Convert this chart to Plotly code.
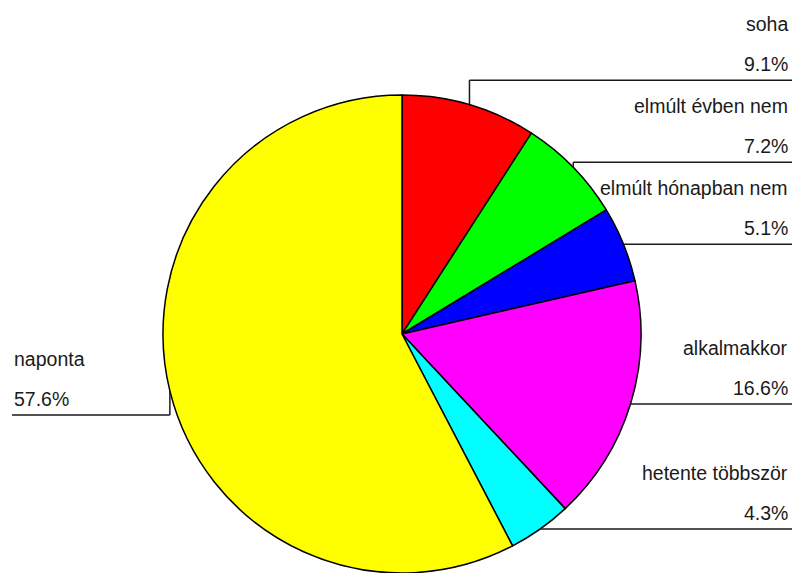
import math
import plotly.graph_objects as go

labels = ["soha", "elmúlt évben nem", "elmúlt hónapban nem", "alkalmakkor", "hetente többször", "naponta"]
values = [9.1, 7.2, 5.1, 16.6, 4.3, 57.6]
colors = ["#ff0000", "#00ff00", "#0000ff", "#ff00ff", "#00ffff", "#ffff00"]

W, H = 802, 573
dom_x = [162 / W, 642 / W]
dom_y = [0.0, 0.8342]

fig = go.Figure(go.Pie(
    labels=labels, values=values, sort=False, direction="clockwise", rotation=0,
    textinfo="none", hoverinfo="label+percent",
    marker=dict(colors=colors, line=dict(color="#000000", width=1.5)),
    domain=dict(x=dom_x, y=dom_y), showlegend=False,
))

# pie geometry in pixels (derived from the domain)
cx = (dom_x[0] + dom_x[1]) / 2 * W
cy = H * (1 - (dom_y[0] + dom_y[1]) / 2)
r = min((dom_x[1] - dom_x[0]) * W, (dom_y[1] - dom_y[0]) * H) / 2

total = sum(values)
cum = 0.0
anchors = []
for lab, v in zip(labels, values):
    theta = 2 * math.pi * (cum + v / 2) / total
    cum += v
    ax = cx + r * math.sin(theta)
    ay = cy - r * math.cos(theta)
    anchors.append(dict(label=lab, value=v, ax=ax, ay=ay, right=math.sin(theta) >= 0))

GAP = 82
right = sorted([a for a in anchors if a["right"]], key=lambda a: a["ay"])
for a in right:
    a["ly"] = a["ay"]
for i in range(len(right) - 2, -1, -1):
    if right[i]["ly"] > right[i + 1]["ly"] - GAP:
        right[i]["ly"] = right[i + 1]["ly"] - GAP
left = [a for a in anchors if not a["right"]]
for a in left:
    a["ly"] = a["ay"] + 24

def px(x):
    return x / W

def py(y):
    return 1 - y / H

line_style = dict(color="#1a1a1a", width=1.5)
font = dict(family="Liberation Sans, Arial, sans-serif", size=19.5, color="#1a1a1a")
annotations = []
shapes = []
for a in anchors:
    end_x = 792 if a["right"] else 12
    text_x = 790 if a["right"] else 12
    anchor = "right" if a["right"] else "left"
    shapes.append(dict(type="line", xref="paper", yref="paper",
                       x0=px(a["ax"]), y0=py(a["ay"]), x1=px(a["ax"]), y1=py(a["ly"]), line=line_style))
    shapes.append(dict(type="line", xref="paper", yref="paper",
                       x0=px(a["ax"]), y0=py(a["ly"]), x1=px(end_x), y1=py(a["ly"]), line=line_style))
    annotations.append(dict(xref="paper", yref="paper", x=px(text_x), y=py(a["ly"] - 56),
                            text=a["label"], showarrow=False, xanchor=anchor, yanchor="middle", font=font))
    annotations.append(dict(xref="paper", yref="paper", x=px(text_x), y=py(a["ly"] - 16),
                            text=f"{a['value']:.1f}%", showarrow=False, xanchor=anchor, yanchor="middle", font=font))

fig.update_layout(
    width=W, height=H, autosize=False,
    margin=dict(l=0, r=0, t=0, b=0),
    paper_bgcolor="white", plot_bgcolor="white",
    shapes=shapes, annotations=annotations,
)

fig.write_html(
    "out.html",
    config={"displayModeBar": False},
    post_script="document.body.style.margin='0';document.body.style.overflow='hidden';",
)
